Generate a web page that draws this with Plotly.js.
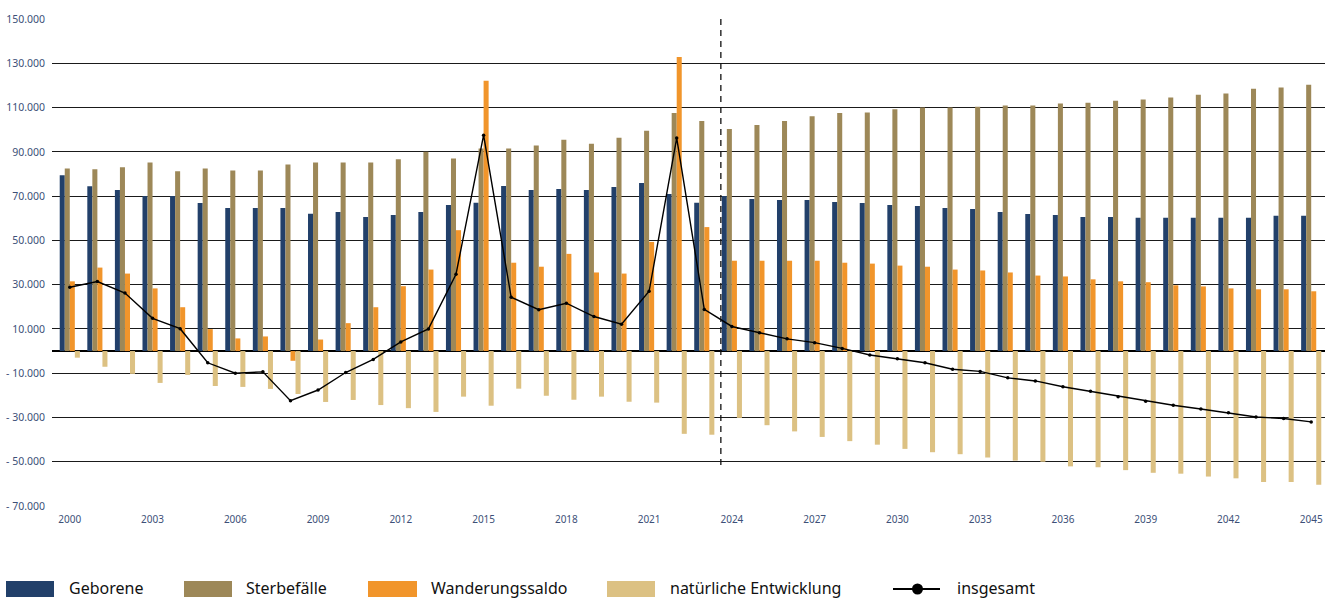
<!DOCTYPE html>
<html>
<head>
<meta charset="utf-8">
<script src="https://cdn.plot.ly/plotly-3.0.1.min.js"></script>
<style>html,body{margin:0;padding:0;background:#fff;}#chart{width:1330px;height:599px;}</style>
</head>
<body>
<div id="chart"></div>
<script>
// Data (values in thousands)
var years = ["2000","2001","2002","2003","2004","2005","2006","2007","2008","2009","2010","2011","2012","2013","2014","2015","2016","2017","2018","2019","2020","2021","2022","2023","2024","2025","2026","2027","2028","2029","2030","2031","2032","2033","2034","2035","2036","2037","2038","2039","2040","2041","2042","2043","2044","2045"];
var geborene = [79.4,74.5,72.7,70.0,70.0,66.9,64.6,64.6,64.6,62.0,62.8,60.6,61.5,62.8,66.0,67.0,74.6,72.8,73.2,72.8,74.1,75.9,71.0,67.0,70.0,68.7,68.2,68.2,67.3,66.9,66.0,65.5,64.6,64.2,62.8,61.9,61.5,60.6,60.6,60.2,60.2,60.2,60.2,60.2,61.1,61.1];
var sterbefaelle = [82.5,82.1,83.0,85.2,81.2,82.5,81.6,81.6,84.3,85.2,85.2,85.2,86.6,90.0,87.0,91.5,91.5,92.8,95.5,93.7,96.4,99.5,107.5,103.9,100.3,102.1,103.9,106.1,107.5,107.8,109.2,110.0,110.0,110.4,110.9,110.9,111.8,112.2,113.1,113.6,114.5,115.8,116.3,118.5,119.0,120.3];
var wanderungssaldo = [31.5,37.7,35.0,28.3,19.8,9.9,5.7,6.6,-4.4,5.2,12.6,19.8,29.3,36.8,54.6,122.1,39.9,38.1,43.9,35.5,35.0,49.3,132.8,56.0,40.8,40.8,40.8,40.8,39.9,39.5,38.6,38.1,36.8,36.4,35.5,34.1,33.7,32.4,31.5,31.1,29.7,29.2,28.3,27.9,27.9,27.0];
var natuerlich = [-3.0,-7.1,-10.3,-14.4,-10.8,-15.8,-16.2,-17.1,-19.4,-23.0,-22.1,-24.4,-25.8,-27.5,-20.6,-24.7,-17.0,-20.2,-22.0,-20.6,-22.9,-23.3,-37.4,-37.8,-30.2,-33.5,-36.3,-38.8,-40.7,-42.3,-44.2,-45.7,-46.6,-48.1,-49.5,-50.0,-52.1,-52.5,-53.8,-55.0,-55.4,-56.7,-57.5,-59.2,-59.2,-60.4];
var insgesamt = [28.8,31.4,26.2,14.8,10.1,-5.3,-10.0,-9.4,-22.4,-17.6,-9.7,-3.8,4.1,10.0,34.7,97.5,24.3,18.7,21.6,15.6,12.1,27.0,96.2,18.8,11.1,8.3,5.5,3.8,1.2,-1.8,-3.5,-5.3,-8.2,-9.2,-12.1,-13.5,-16.1,-18.2,-20.6,-22.7,-24.5,-26.2,-27.9,-29.8,-30.5,-32.0];

var yTickVals = [150,130,110,90,70,50,30,10,-10,-30,-50,-70];
var yTickText = ["150.000","130.000","110.000","90.000","70.000","50.000","30.000","10.000","- 10.000","- 30.000","- 50.000","- 70.000"];
var xTickVals = ["2000","2003","2006","2009","2012","2015","2018","2021","2024","2027","2030","2033","2036","2039","2042","2045"];

var seriesNames = ["Geborene","Sterbefälle","Wanderungssaldo","natürliche Entwicklung","insgesamt"];
var colors = ["#22406a","#9d8858","#f1952b","#dcc183","#000000"];

// layout geometry helpers (pixel -> paper)
var W = 1330, H = 599, mL = 52, mR = 5, mT = 19, mB = 93;
var pw = W - mL - mR, ph = H - mT - mB;
function PX(x){ return (x - mL) / pw; }
function PY(y){ return (H - mB - y) / ph; }

var barData = [geborene, sterbefaelle, wanderungssaldo, natuerlich];
var traces = barData.map(function(vals, i){
  return {type:'bar', x: years, y: vals, name: seriesNames[i], marker:{color: colors[i], line:{width:0}}, hoverinfo:'skip', showlegend:false};
});
traces.push({type:'scatter', mode:'lines+markers', x: years, y: insgesamt, name: seriesNames[4],
  line:{color:'#000', width:1.4}, marker:{color:'#000', size:3.5}, hoverinfo:'skip', showlegend:false});

// custom legend
var legendSw = [[6,54],[184,232],[368,417],[607,655]];
var legendTx = [68,245,430,669,956];
var shapes = [];
var annotations = [];
for (var i=0;i<4;i++){
  shapes.push({type:'rect', xref:'paper', yref:'paper', x0:PX(legendSw[i][0]), x1:PX(legendSw[i][1]), y0:PY(597), y1:PY(581), fillcolor: colors[i], line:{width:0}});
}
shapes.push({type:'line', xref:'paper', yref:'paper', x0:PX(893), x1:PX(940), y0:PY(589), y1:PY(589), line:{color:'#000', width:2}});
shapes.push({type:'circle', xref:'paper', yref:'paper', x0:PX(912), x1:PX(923), y0:PY(594.5), y1:PY(583.5), fillcolor:'#000', line:{width:0}});
for (var j=0;j<5;j++){
  annotations.push({xref:'paper', yref:'paper', x:PX(legendTx[j]), y:PY(588), xanchor:'left', yanchor:'middle', showarrow:false, borderpad:0, text: seriesNames[j], font:{family:'Noto Sans, Open Sans, sans-serif', size:16, color:'#111'}});
}
// forecast divider
shapes.push({type:'line', xref:'x', yref:'y', x0:23.6, x1:23.6, y0:150, y1:-52, line:{color:'#111', width:1.3, dash:'6px,5px'}});

var layout = {
  width: W, height: H,
  margin:{l:mL, r:mR, t:mT, b:mB, pad:0},
  paper_bgcolor:'#fff', plot_bgcolor:'#fff',
  barmode:'group', bargap:0.27, bargroupgap:0,
  showlegend:false,
  xaxis:{type:'category', range:[-0.645,45.5], tickmode:'array', tickvals:xTickVals, ticktext:xTickVals,
    showgrid:false, zeroline:false, showline:false, ticks:'', ticklabelstandoff:6,
    tickfont:{family:'Noto Sans, Open Sans, sans-serif', size:10, color:'#3d5078'}, fixedrange:true},
  yaxis:{range:[-70,150], tickmode:'array', tickvals:yTickVals, ticktext:yTickText,
    showgrid:true, gridcolor:'#1a1a1a', gridwidth:1, zeroline:true, zerolinecolor:'#000', zerolinewidth:1.3,
    showline:false, ticks:'', ticklabelstandoff:6,
    tickfont:{family:'Noto Sans, Open Sans, sans-serif', size:10.5, color:'#3d5078'}, fixedrange:true},
  shapes: shapes,
  annotations: annotations
};

Plotly.newPlot('chart', traces, layout, {displayModeBar:false, staticPlot:true});
</script>
</body>
</html>
